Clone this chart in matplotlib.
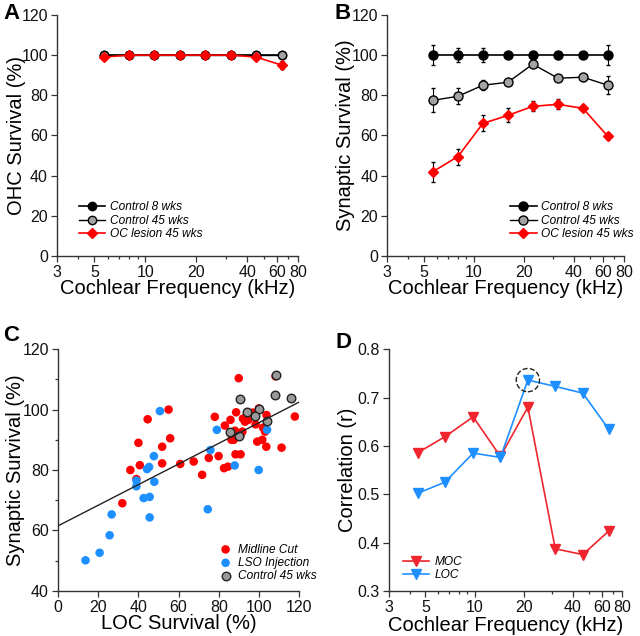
import numpy as np
import matplotlib
matplotlib.use("Agg")
import matplotlib.pyplot as plt

plt.rcParams['font.family'] = ['Liberation Sans', 'DejaVu Sans']

# --- data -------------------------------------------------------------
freq = [5.66, 8, 11.3, 16, 22.6, 32, 45.3, 64]

ohc_ctrl8 = [100, 100, 100, 100, 100, 100, 100, 100]
ohc_ctrl45 = [100, 100, 100, 100, 100, 100, 100, 100]
ohc_lesion = [99, 100, 100, 100, 100, 100, 99, 95]
ohc_lesion_err = [0.5, 0, 0, 0, 0, 0, 0.5, 2]

syn_ctrl8 = [100, 100, 100, 100, 100, 100, 100, 100]
syn_ctrl8_err = [5, 3.5, 3.5, 1, 1, 1, 1, 5]
syn_ctrl45 = [77.5, 79.5, 85, 86.5, 95.5, 88.5, 89, 85]
syn_ctrl45_err = [6, 4, 2.5, 1, 1.5, 1, 1, 4.5]
syn_lesion = [42, 49.5, 66, 70, 74.5, 75.5, 73.5, 59.5]
syn_lesion_err = [5, 4, 4, 3.5, 2.5, 2.5, 1.5, 1.5]

cut_x = [32, 36, 39, 40, 40.7, 44.6, 51.8, 51.8, 55, 55.8, 60.8, 67.5, 71.7, 75, 78,
         79.9, 82.6, 84.5, 83, 85.8, 86.3, 88.6, 89.9, 88.3, 90.8, 90.8, 92, 94.6, 98.3,
         99.9, 99.1, 101.6, 103.7, 103.6, 108.2, 111.2, 117.8, 88, 91.7, 102, 103, 97,
         86, 87.4, 93]
cut_y = [69, 80, 77, 89, 81.6, 96.8, 87.7, 82.2, 100, 90.5, 82, 82.8, 78.4, 84, 97.6,
         84.6, 80.6, 81.1, 94.7, 96.6, 90, 99.1, 110.4, 85.2, 85.2, 91.6, 97, 96.6, 95.1,
         100.4, 89.4, 90, 98.2, 87.7, 111, 87.4, 97.7, 93, 92.7, 94, 92.7, 99,
         92, 90, 96]
lso_x = [13.7, 20.7, 25.7, 26.7, 39, 39, 42.6, 45.6, 44.3, 45.3, 45.6, 47.7, 47.9, 50.7,
         74.5, 75.8, 79, 87.9, 99.8, 104]
lso_y = [50.1, 52.6, 58.4, 65.3, 76.5, 74.6, 70.7, 71.1, 80.3, 81, 64.3, 84.6, 76.1, 99.5,
         67, 86.6, 93.3, 81.5, 80, 93.3]
c45_x = [108.6, 90.7, 107.8, 116.1, 94, 99.8, 97.8, 104, 85.7, 89.9]
c45_y = [111.3, 103.4, 104.9, 103.8, 99.3, 100.2, 97.9, 96.2, 92.7, 91.4]
fit_x = [0, 120]
fit_y = [61.5, 102.5]

corr_freq = [4.5, 6.6, 9.8, 14.4, 21.2, 31.2, 46, 66.4]
moc_r = [0.586, 0.619, 0.660, 0.578, 0.680, 0.387, 0.375, 0.424]
loc_r = [0.502, 0.525, 0.585, 0.576, 0.736, 0.723, 0.709, 0.634]

# --- styling helpers ----------------------------------------------------
AX_COL = '#333333'
GRAY = '#a3a3a3'
BLUE = '#1e8fff'
LAB_FS = 14.5


def style(ax):
    for s in ['top', 'right']:
        ax.spines[s].set_visible(False)
    for s in ['left', 'bottom']:
        ax.spines[s].set_color(AX_COL)
        ax.spines[s].set_linewidth(1.0)
    ax.tick_params(axis='both', which='both', direction='out', colors=AX_COL,
                   labelcolor='#111111', labelsize=11.5, width=0.9, pad=2.5)
    ax.tick_params(which='major', length=4)
    ax.tick_params(which='minor', length=2.5)


def freq_axis(ax):
    ax.set_xscale('log')
    ax.set_xlim(3, 80)
    ax.set_xticks([3, 5, 10, 20, 40, 60, 80])
    ax.set_xticklabels(['3', '5', '10', '20', '40', '60', '80'])
    ax.set_xticks([4, 6, 7, 8, 9, 30, 50, 70], minor=True)
    ax.xaxis.set_minor_formatter(matplotlib.ticker.NullFormatter())
    ax.set_xlabel('Cochlear Frequency (kHz)', fontsize=LAB_FS)


fig = plt.figure(figsize=(6.4, 6.36), dpi=100)

axA = fig.add_axes([0.089, 0.5975, 0.377, 0.379])
axB = fig.add_axes([0.605, 0.5975, 0.370, 0.379])
axC = fig.add_axes([0.0906, 0.071, 0.377, 0.380])
axD = fig.add_axes([0.608, 0.071, 0.364, 0.380])

leg_kw = dict(frameon=False, prop={'style': 'italic', 'size': 8.6},
              handlelength=2.2, handletextpad=0.4, labelspacing=0.12, borderpad=0,
              borderaxespad=0)
eb_kw = dict(fmt='none', ecolor='k', elinewidth=0.8, capsize=1.5)

# Panel A
axA.plot(freq, ohc_ctrl8, color='k', marker='o', ms=6, mfc='k', mec='k', lw=1.2,
         label='Control 8 wks', zorder=2)
axA.plot(freq, ohc_ctrl45, color='k', marker='o', ms=6, mfc=GRAY, mec='k', lw=1.0,
         label='Control 45 wks', zorder=3)
axA.errorbar(freq, ohc_lesion, yerr=ohc_lesion_err, zorder=3.5, **eb_kw)
axA.plot(freq, ohc_lesion, color='red', marker='D', ms=5.5, mfc='red', mec='red',
         lw=1.2, label='OC lesion 45 wks', zorder=4)
axA.set_ylim(0, 120)
axA.set_yticks(range(0, 121, 20))
axA.set_ylabel('OHC Survival (%)', fontsize=LAB_FS)
freq_axis(axA)
style(axA)
axA.legend(loc='lower left', bbox_to_anchor=(0.09, 0.065), **leg_kw)

# Panel B
axB.errorbar(freq, syn_ctrl8, yerr=syn_ctrl8_err, zorder=1.5, **eb_kw)
axB.errorbar(freq, syn_ctrl45, yerr=syn_ctrl45_err, zorder=2.5, **eb_kw)
axB.errorbar(freq, syn_lesion, yerr=syn_lesion_err, zorder=3.5, **eb_kw)
axB.plot(freq, syn_ctrl8, color='k', marker='o', ms=6.5, mfc='k', mec='k', lw=1.2,
         label='Control 8 wks', zorder=2)
axB.plot(freq, syn_ctrl45, color='k', marker='o', ms=6.5, mfc=GRAY, mec='k', lw=1.0,
         label='Control 45 wks', zorder=3)
axB.plot(freq, syn_lesion, color='red', marker='D', ms=5.5, mfc='red', mec='red',
         lw=1.2, label='OC lesion 45 wks', zorder=4)
axB.set_ylim(0, 120)
axB.set_yticks(range(0, 121, 20))
axB.set_ylabel('Synaptic Survival (%)', fontsize=LAB_FS)
freq_axis(axB)
style(axB)
axB.legend(loc='lower left', bbox_to_anchor=(0.52, 0.065), **leg_kw)

# Panel C
axC.scatter(cut_x, cut_y, s=38, color='#ff0000', edgecolors='none', label='Midline Cut', zorder=2)
axC.scatter(lso_x, lso_y, s=38, color=BLUE, edgecolors='none', label='LSO Injection', zorder=3)
axC.scatter(c45_x, c45_y, s=38, color='#999999', edgecolors='#222222', linewidths=1.0,
            label='Control 45 wks', zorder=4)
axC.plot(fit_x, fit_y, color='#222222', lw=1.0, zorder=5)
axC.set_xlim(0, 120)
axC.set_ylim(40, 120)
axC.set_xticks(range(0, 121, 20))
axC.set_yticks(range(40, 121, 20))
axC.set_yticks(range(50, 120, 20), minor=True)
axC.set_xlabel('LOC Survival (%)', fontsize=LAB_FS)
axC.set_ylabel('Synaptic Survival (%)', fontsize=LAB_FS)
style(axC)
axC.legend(loc='lower left', bbox_to_anchor=(0.665, 0.035), scatterpoints=1,
           **dict(leg_kw, handlelength=1.2))

# Panel D
axD.plot(corr_freq, moc_r, color='#f0252d', marker='v', ms=7.5, mfc='#f0252d', mec='#f0252d',
         lw=1.2, label='MOC', zorder=3)
axD.plot(corr_freq, loc_r, color=BLUE, marker='v', ms=7.5, mfc=BLUE, mec=BLUE,
         lw=1.2, label='LOC', zorder=3)
axD.scatter([corr_freq[4]], [loc_r[4]], s=280, facecolors='none', edgecolors='#222222',
            linewidths=1.0, linestyle='--', zorder=4)
axD.set_ylim(0.3, 0.8)
axD.set_yticks([0.3, 0.4, 0.5, 0.6, 0.7, 0.8])
axD.set_yticklabels(['0.3', '0.4', '0.5', '0.6', '0.7', '0.8'])
axD.set_ylabel('Correlation (r)', fontsize=LAB_FS)
freq_axis(axD)
style(axD)
axD.legend(loc='lower left', bbox_to_anchor=(0.06, 0.04), **leg_kw)

# label positions (axes fraction)
axA.yaxis.set_label_coords(-0.129, 0.5)
axB.yaxis.set_label_coords(-0.137, 0.5)
axC.yaxis.set_label_coords(-0.137, 0.5)
axD.yaxis.set_label_coords(-0.137, 0.5)
axA.xaxis.set_label_coords(0.5, -0.095)
axB.xaxis.set_label_coords(0.5, -0.095)
axC.xaxis.set_label_coords(0.5, -0.095)
axD.xaxis.set_label_coords(0.5, -0.105)

# panel letters
for lbl, x, y in [('A', 0.005, 0.995), ('B', 0.522, 0.995), ('C', 0.005, 0.489), ('D', 0.524, 0.478)]:
    fig.text(x, y, lbl, fontsize=16, fontweight='bold', va='top', ha='left')

fig.savefig('out.png', dpi=100)
